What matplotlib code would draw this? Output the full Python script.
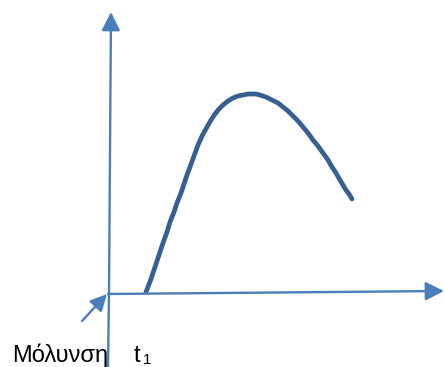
import matplotlib.pyplot as plt

plt.rcParams['font.family'] = ['Liberation Sans', 'DejaVu Sans']

# curve (pixel coordinates, y down)
curve_x = [146, 151, 155, 159, 163, 167, 170, 174, 177, 181, 184, 187, 190, 194, 198, 202, 207, 211, 215, 219, 223, 228, 233, 238, 243, 248, 252, 256, 260, 266, 272, 278, 283, 288, 293, 298, 303, 308, 313, 318, 323, 328, 332, 336, 340, 343, 346, 349, 352]
curve_y = [292, 279, 267, 255, 243, 232, 222, 212, 203, 193, 184, 175, 167, 156, 145, 136, 127, 120, 114, 109, 105, 101, 98, 96, 95, 94, 94, 94, 95, 97, 100, 103, 107, 111, 116, 121, 127, 133, 140, 146, 153, 160, 167, 173, 180, 185, 190, 194, 199]

label_infection = 'Μόλυνση'
label_t = 't'
label_sub = '1'

axis_col = '#4a7ebb'
curve_col = '#375f91'

fig = plt.figure(figsize=(4.44, 3.67), dpi=100)
ax = fig.add_axes([0, 0, 1, 1])
ax.set_xlim(0, 444)
ax.set_ylim(367, 0)
ax.axis('off')

arrow = dict(arrowstyle='-|>', color=axis_col, lw=1.7, mutation_scale=28, shrinkA=0, shrinkB=0)

# vertical axis (runs past the horizontal one to the bottom)
ax.plot([108, 109], [367, 293], color=axis_col, lw=1.7)
ax.annotate('', xy=(111, 12), xytext=(109, 293), arrowprops=arrow)

# horizontal axis
ax.annotate('', xy=(444, 291), xytext=(108, 294), arrowprops=arrow)

# small arrow pointing at the origin
ax.annotate('', xy=(107, 294), xytext=(82, 321),
            arrowprops=dict(arrowstyle='-|>', color=axis_col, lw=1.7, mutation_scale=25, shrinkA=0, shrinkB=0))

ax.plot(curve_x, curve_y, color=curve_col, lw=3.4, solid_capstyle='round', solid_joinstyle='round')

ax.text(12, 362, label_infection, fontsize=17, color='black', va='baseline')
ax.text(134, 362, label_t, fontsize=17, color='black', va='baseline')
ax.text(143, 364, label_sub, fontsize=11, color='black', va='baseline')

fig.savefig('out.png', dpi=100)
